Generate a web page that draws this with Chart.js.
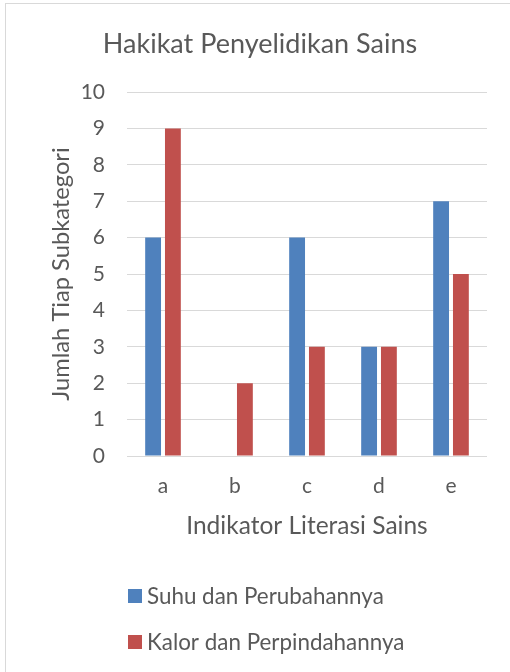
<!DOCTYPE html>
<html>
<head>
<meta charset="utf-8">
<script src="https://cdn.jsdelivr.net/npm/chart.js@4"></script>
<style>
  html, body { margin: 0; padding: 0; background: #fff; }
  body { width: 510px; height: 672px; overflow: hidden; position: relative; }
  #box { position: absolute; left: 5px; top: 3px; width: 520px; height: 700px;
         border-left: 1px solid #d9d9d9; border-top: 1px solid #d9d9d9; }
  #wrap { position: absolute; left: 0; top: 0; width: 504px; height: 668px; }
</style>
</head>
<body>
<div id="box"><div id="wrap"><canvas id="myChart"></canvas></div></div>
<script>
var categories = ['a', 'b', 'c', 'd', 'e'];
var suhu = [6, 0, 6, 3, 7];
var kalor = [9, 2, 3, 3, 5];
var seriesNames = ['Suhu dan Perubahannya', 'Kalor dan Perpindahannya'];

var textColor = '#595959';
var fontName = 'Lato, "Open Sans", sans-serif';

// legend stacked one item per row, like the original
var stackedLegend = {
    id: 'stackedLegend',
    afterDraw: function(chart) {
        var c = chart.ctx;
        var x = chart.chartArea.left + 1;
        var rows = [592, 638];
        c.save();
        c.font = '22.4px ' + fontName;
        c.textBaseline = 'middle';
        chart.data.datasets.forEach(function(ds, i) {
            c.fillStyle = ds.backgroundColor;
            c.fillRect(x, rows[i] - 7, 14, 14);
            c.fillStyle = textColor;
            c.fillText(ds.label, x + 19, rows[i] + 1);
        });
        c.restore();
    }
};

var ctx = document.getElementById('myChart').getContext('2d');
var myChart = new Chart(ctx, {
    type: 'bar',
    data: {
        labels: categories,
        datasets: [{
            label: seriesNames[0],
            data: suhu,
            backgroundColor: '#4f81bd',
            borderWidth: 0,
            barPercentage: 0.8,
            categoryPercentage: 0.55
        }, {
            label: seriesNames[1],
            data: kalor,
            backgroundColor: '#c0504d',
            borderWidth: 0,
            barPercentage: 0.8,
            categoryPercentage: 0.55
        }]
    },
    plugins: [stackedLegend],
    options: {
        responsive: true,
        maintainAspectRatio: false,
        animation: false,
        layout: {
            padding: { left: 27, right: 23, top: 0, bottom: 131 }
        },
        plugins: {
            legend: { display: false },
            tooltip: { enabled: false },
            title: {
                display: true,
                text: 'Hakikat Penyelidikan Sains',
                color: textColor,
                font: { family: fontName, size: 27, weight: 'normal' },
                padding: { top: 24, bottom: 31.6 }
            }
        },
        scales: {
            x: {
                grid: { display: false },
                border: { display: false },
                ticks: {
                    color: textColor,
                    font: { family: fontName, size: 21 },
                    padding: 10
                },
                title: {
                    display: true,
                    text: 'Indikator Literasi Sains',
                    color: textColor,
                    font: { family: fontName, size: 24.5 },
                    padding: { top: 26, bottom: 0 }
                },
                afterFit: function(scale) { scale.height = 85; }
            },
            y: {
                min: 0,
                max: 10,
                ticks: {
                    stepSize: 1,
                    color: textColor,
                    font: { family: fontName, size: 21 },
                    padding: 22
                },
                grid: {
                    color: '#d9d9d9',
                    lineWidth: 1,
                    drawTicks: false
                },
                border: { display: false },
                title: {
                    display: true,
                    text: 'Jumlah Tiap Subkategori',
                    color: textColor,
                    font: { family: fontName, size: 23.7 },
                    padding: { top: 14, bottom: 0 }
                },
                afterFit: function(scale) { scale.width = 94; }
            }
        }
    }
});
</script>
</body>
</html>
